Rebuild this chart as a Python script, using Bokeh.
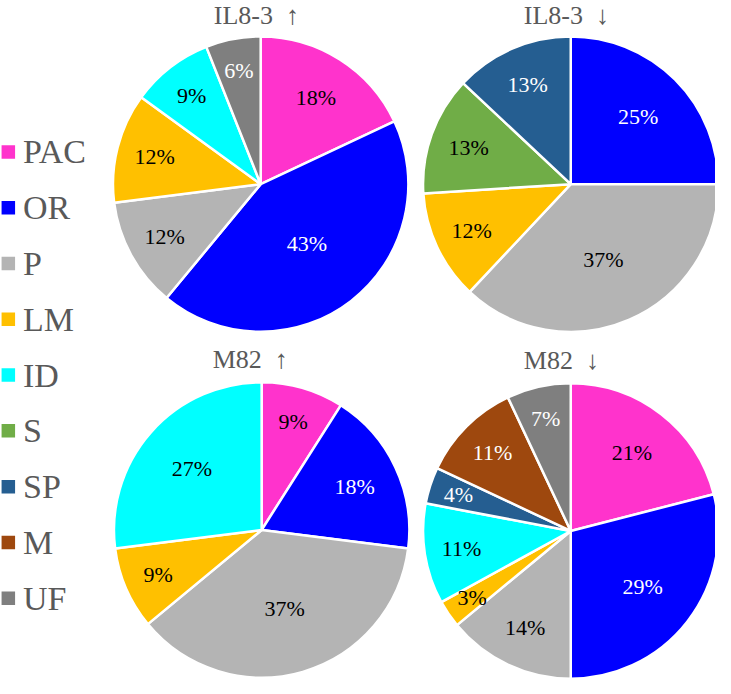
import math

from bokeh.core.properties import value
from bokeh.embed import file_html
from bokeh.models import ColumnDataSource, Range1d
from bokeh.plotting import figure
from bokeh.resources import INLINE

categories = ["PAC", "OR", "P", "LM", "ID", "S", "SP", "M", "UF"]
colors = ["#FF33CC", "#0000FF", "#B4B4B4", "#FFC000", "#00FFFF",
          "#70AD47", "#255E91", "#9E480E", "#7F7F7F"]
label_colors = ["black", "white", "black", "black", "black",
                "black", "white", "white", "white"]

GAP = "\u00a0" * 2  # svg collapses plain spaces
titles = ["IL8-3" + GAP + "\u2191", "IL8-3" + GAP + "\u2193",
          "M82" + GAP + "\u2191", "M82" + GAP + "\u2193"]
il83_up = [18, 43, 12, 12, 9, 0, 0, 0, 6]
il83_down = [0, 25, 37, 12, 0, 13, 13, 0, 0]
m82_up = [9, 18, 37, 9, 27, 0, 0, 0, 0]
m82_down = [21, 29, 14, 3, 11, 0, 4, 11, 7]

# page is laid out in the picture's own pixel coords, y measured upward
W, H = 731, 694
FONT = value("Liberation Serif")
TITLE_FONT = value("Liberation Serif, DejaVu Serif")  # arrows come from DejaVu

p = figure(width=715, height=678, output_backend="svg", toolbar_location=None,
           x_range=Range1d(0, W), y_range=Range1d(0, H), min_border=0)
p.axis.visible = False
p.grid.visible = False
p.outline_line_color = None

R = 151
# centre x, centre y, title left x, title y
pies = [
    (il83_up, 266, 188, 218, 15),
    (il83_down, 583, 188, 535, 15),
    (m82_up, 267, 542, 217, 367),
    (m82_down, 583, 543, 535, 368),
]

for (vals, cx, cy, tx, ty), title in zip(pies, titles):
    total = float(sum(vals))
    starts, ends, fills, lx, ly, ltxt, lcol = [], [], [], [], [], [], []
    cum = 0.0
    for cat_i, v in enumerate(vals):
        if v == 0:
            continue
        f = v / total
        a0 = math.pi / 2 - (cum + f) * 2 * math.pi
        a1 = math.pi / 2 - cum * 2 * math.pi
        mid = (a0 + a1) / 2
        rl = R * (0.83 - 0.74 * f)  # small slices push their label outward
        starts.append(a0)
        ends.append(a1)
        fills.append(colors[cat_i])
        lx.append(cx + rl * math.cos(mid))
        ly.append(H - cy + rl * math.sin(mid))
        ltxt.append("%d%%" % v)
        lcol.append(label_colors[cat_i])
        cum += f

    src = ColumnDataSource(dict(start=starts, end=ends, fill=fills))
    p.wedge(x=cx, y=H - cy, radius=R, start_angle="start", end_angle="end",
            fill_color="fill", line_color="white", line_width=2.5, source=src)

    lsrc = ColumnDataSource(dict(x=lx, y=ly, t=ltxt, c=lcol))
    p.text(x="x", y="y", text="t", text_color="c", source=lsrc,
           text_font=FONT, text_font_size="22px",
           text_align="center", text_baseline="middle")

    p.text(x=[tx], y=[H - ty], text=[title], text_color="#595959",
           text_font=TITLE_FONT, text_font_size="26px",
           text_align="left", text_baseline="middle")

# legend down the left side
leg_y = [H - (155 + 57.1 * i) for i in range(len(categories))]
p.scatter(x=[8] * len(categories), y=leg_y, marker="square", size=13.5,
          fill_color=colors, line_color=None)
p.text(x=[23] * len(categories), y=leg_y, text=categories, text_color="#595959",
       text_font=FONT, text_font_size="34px",
       text_align="left", text_baseline="middle")

open("out.html", "w").write(file_html(p, INLINE))
